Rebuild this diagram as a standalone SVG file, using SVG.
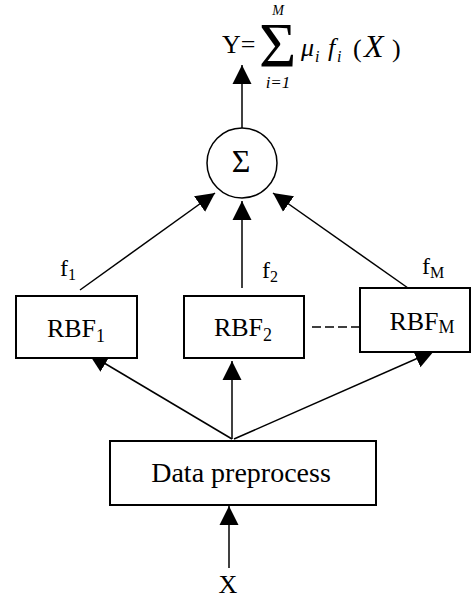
<svg xmlns="http://www.w3.org/2000/svg" width="472" height="600" viewBox="0 0 472 600">
<style>
  text { font-family: "Liberation Serif", "Times New Roman", serif; fill: #000; }
  .box { fill: #fff; stroke: #000; stroke-width: 2; }
  .conn { stroke: #000; stroke-width: 1.5; fill: none; }
  .lbl { font-size: 26px; }
  .sub { font-size: 18px; }
  .it { font-style: italic; }
</style>
<defs>
  <marker id="arr" markerUnits="userSpaceOnUse" markerWidth="20" markerHeight="20" viewBox="0 0 20 20" refX="19" refY="10" orient="auto">
    <path d="M0,0.5 L19,10 L0,19.5 z" fill="#000"/>
  </marker>
</defs>
<rect width="472" height="600" fill="#fff"/>

<g id="connectors">
  <line class="conn" x1="242" y1="128" x2="242" y2="65" marker-end="url(#arr)"/>
  <line class="conn" x1="80" y1="290" x2="215" y2="193" marker-end="url(#arr)"/>
  <line class="conn" x1="242" y1="288" x2="242" y2="201" marker-end="url(#arr)"/>
  <line class="conn" x1="408" y1="288" x2="273" y2="193" marker-end="url(#arr)"/>
  <line class="conn" x1="232" y1="439" x2="89" y2="354" marker-end="url(#arr)"/>
  <line class="conn" x1="232" y1="439" x2="232" y2="361" marker-end="url(#arr)"/>
  <line class="conn" x1="234" y1="439" x2="434" y2="351" marker-end="url(#arr)"/>
  <line class="conn" x1="229" y1="568" x2="229" y2="506" marker-end="url(#arr)"/>
  <line class="conn" x1="312" y1="327" x2="360" y2="327" stroke-dasharray="9 4"/>
</g>

<g id="formula">
  <text class="lbl" x="222" y="53">Y=</text>
  <text x="259" y="67" style="font-size:64px">Σ</text>
  <text class="it" x="278" y="15" text-anchor="middle" style="font-size:14px">M</text>
  <text class="it" x="278" y="88" text-anchor="middle" style="font-size:17px">i=1</text>
  <text class="lbl it" x="301" y="56">μ</text>
  <text class="it" x="315" y="62" style="font-size:16px">i</text>
  <text class="lbl it" x="328" y="56">f</text>
  <text class="it" x="337" y="62" style="font-size:16px">i</text>
  <text class="lbl" x="353" y="57">(</text>
  <text class="it" x="364" y="57" style="font-size:32px">X</text>
  <text class="lbl" x="392" y="57">)</text>
</g>

<g id="sum">
  <circle cx="242" cy="163" r="35" fill="#fff" stroke="#000" stroke-width="1.5"/>
  <text x="241" y="172" text-anchor="middle" style="font-size:32px">Σ</text>
</g>

<g id="rbf1">
  <rect class="box" x="16" y="296" width="121" height="62"/>
  <text class="lbl" x="76" y="337" text-anchor="middle">RBF<tspan class="sub" dy="5">1</tspan></text>
</g>
<g id="rbf2">
  <rect class="box" x="184" y="296" width="120" height="62"/>
  <text class="lbl" x="243" y="336" text-anchor="middle">RBF<tspan class="sub" dy="5">2</tspan></text>
</g>
<g id="rbfM">
  <rect class="box" x="360" y="288" width="110" height="64"/>
  <text class="lbl" x="422" y="330" text-anchor="middle">RBF<tspan class="sub" dy="3">M</tspan></text>
</g>

<g id="labels">
  <text class="lbl" x="60" y="276" style="font-size:24px">f<tspan class="sub" style="font-size:16px" dy="4">1</tspan></text>
  <text class="lbl" x="262" y="278" style="font-size:24px">f<tspan class="sub" style="font-size:16px" dy="4">2</tspan></text>
  <text class="lbl" x="422" y="274" style="font-size:24px">f<tspan class="sub" style="font-size:16px" dy="4">M</tspan></text>
</g>

<g id="preprocess">
  <rect class="box" x="110" y="441" width="266" height="64"/>
  <text x="241" y="482" text-anchor="middle" style="font-size:28px">Data preprocess</text>
</g>

<g id="input">
  <text class="lbl" x="228" y="593" text-anchor="middle">X</text>
</g>
</svg>
